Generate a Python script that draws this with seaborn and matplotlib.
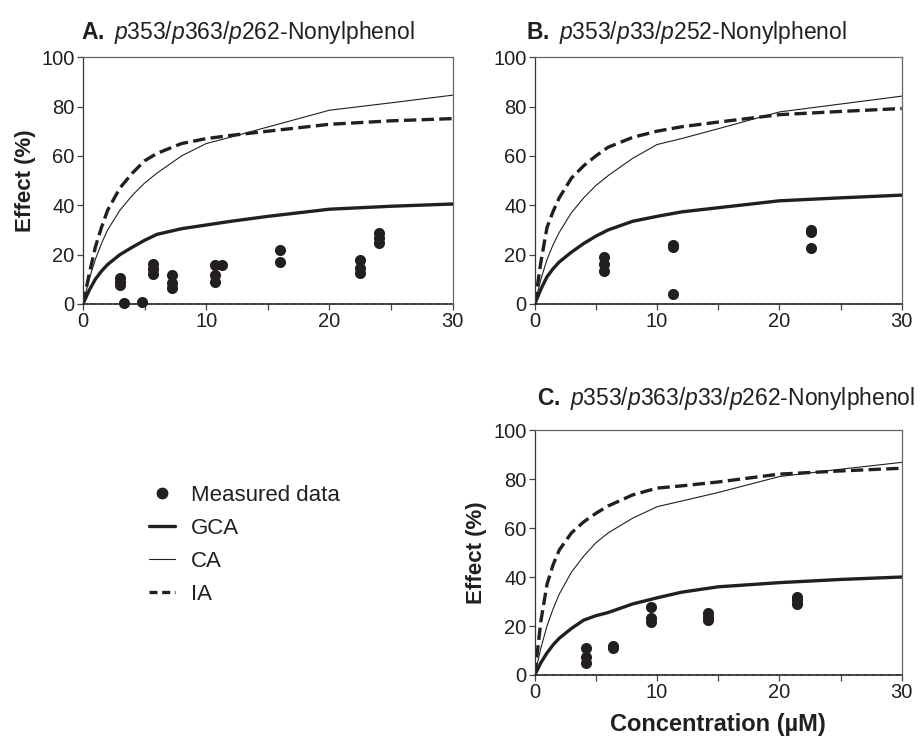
import matplotlib
matplotlib.use("Agg")
import matplotlib.pyplot as plt
from matplotlib.lines import Line2D
from matplotlib.ticker import MultipleLocator
import seaborn as sns
import pandas as pd

# model curves, effect (%) vs concentration (uM)
conc = [0, 0.5, 1, 1.5, 2, 3, 4, 5, 6, 8, 10, 12, 15, 20, 25, 30]

A_gca = [0, 5.5, 10, 13.3, 16, 20, 23, 25.8, 28.2, 30.5, 32, 33.5, 35.5, 38.4, 39.6, 40.5]
A_ca = [0, 10, 18, 24.5, 30, 38, 44, 49, 53, 60, 65, 67.6, 71.7, 78.5, 81.5, 84.6]
A_ia = [0, 12, 23, 31, 38, 47, 53, 58, 61, 65, 67, 68.3, 70, 72.8, 74.2, 75.1]

B_gca = [0, 6, 11, 14.3, 17, 21, 24.5, 27.5, 30, 33.5, 35.5, 37.3, 39, 41.8, 43, 44.1]
B_ca = [0, 10, 18, 24, 29, 37, 43, 48, 52, 59, 64.6, 67, 71, 77.8, 81, 84.2]
B_ia = [0, 17, 31, 37.5, 43, 51, 56, 60, 63.5, 67.5, 70, 71.8, 73.7, 76.7, 78, 79.2]

C_gca = [0, 5, 9, 12.3, 15, 19, 22.4, 24.2, 25.5, 29, 31.5, 33.8, 36, 37.7, 39, 40]
C_ca = [0, 11, 20, 27, 33, 42, 48.5, 54, 58, 64, 68.7, 71, 74.5, 81, 84, 86.8]
C_ia = [0, 22, 37, 45, 51, 58, 62.5, 66, 69, 73.5, 76.3, 77.2, 78.8, 82, 83.3, 84.4]

# measured data
A_x = [3.0, 3.0, 3.0, 3.3, 4.8, 5.7, 5.7, 5.7, 7.2, 7.2, 7.2, 10.7, 10.7, 10.7,
       11.3, 16.0, 16.0, 22.5, 22.5, 22.5, 24.0, 24.0, 24.0]
A_y = [10.5, 9.0, 7.5, 0.5, 0.8, 16.2, 14.2, 12.1, 11.8, 8.4, 6.4, 15.9, 11.8, 9.1,
       15.9, 22.0, 16.9, 17.7, 14.5, 12.5, 28.8, 26.8, 24.8]
B_x = [5.7, 5.7, 5.7, 11.3, 11.3, 11.3, 22.6, 22.6, 22.6]
B_y = [19.0, 16.1, 13.2, 23.7, 22.9, 4.1, 30.1, 29.2, 22.7]
C_x = [4.2, 4.2, 4.2, 6.4, 6.4, 9.5, 9.5, 9.5, 14.2, 14.2, 14.2, 21.4, 21.4, 21.4]
C_y = [10.9, 7.5, 4.8, 12.0, 11.0, 27.9, 23.1, 21.8, 25.2, 23.8, 22.4, 32.0, 30.6, 28.8]

titles = [r"$\mathbf{A.}$ $\mathit{p}$353/$\mathit{p}$363/$\mathit{p}$262-Nonylphenol",
          r"$\mathbf{B.}$ $\mathit{p}$353/$\mathit{p}$33/$\mathit{p}$252-Nonylphenol",
          r"$\mathbf{C.}$ $\mathit{p}$353/$\mathit{p}$363/$\mathit{p}$33/$\mathit{p}$262-Nonylphenol"]

sns.set_theme(style="ticks")
plt.rcParams["font.family"] = ["Liberation Sans", "DejaVu Sans"]
plt.rcParams["mathtext.fontset"] = "custom"
plt.rcParams["mathtext.rm"] = "Liberation Sans"
plt.rcParams["mathtext.it"] = "Liberation Sans:italic"
plt.rcParams["mathtext.bf"] = "Liberation Sans:bold"

ink = "#231f20"
fig = plt.figure(figsize=(9.22, 7.48), dpi=100)
axA = fig.add_axes([0.090, 0.5936, 0.401, 0.330])
axB = fig.add_axes([0.580, 0.5936, 0.398, 0.330])
axC = fig.add_axes([0.580, 0.0976, 0.398, 0.3275])

panels = [(axA, A_gca, A_ca, A_ia, A_x, A_y),
          (axB, B_gca, B_ca, B_ia, B_x, B_y),
          (axC, C_gca, C_ca, C_ia, C_x, C_y)]

for ax, gca, ca, ia, mx, my in panels:
    curves = pd.DataFrame({"conc": conc, "GCA": gca, "CA": ca, "IA": ia})
    sns.lineplot(data=curves, x="conc", y="GCA", ax=ax, color=ink, lw=2.4)
    sns.lineplot(data=curves, x="conc", y="CA", ax=ax, color=ink, lw=0.8)
    sns.lineplot(data=curves, x="conc", y="IA", ax=ax, color=ink, lw=2.4,
                 dashes=(2.4, 1.4), linestyle="--")
    meas = pd.DataFrame({"conc": mx, "effect": my})
    sns.scatterplot(data=meas, x="conc", y="effect", ax=ax, color=ink, s=64,
                    edgecolor=ink, linewidth=0, zorder=5, clip_on=False)
    ax.set_xlim(0, 30)
    ax.set_ylim(0, 100)
    ax.set_xticks([0, 10, 20, 30])
    ax.xaxis.set_minor_locator(MultipleLocator(5))
    ax.set_yticks([0, 20, 40, 60, 80, 100])
    ax.tick_params(axis="both", which="both", direction="out", length=4,
                   width=0.9, color="#444444", labelsize=14.5, pad=2, labelcolor=ink)
    for side in ["top", "right"]:
        ax.spines[side].set_color("#666666")
        ax.spines[side].set_linewidth(0.9)
    ax.spines["left"].set_color("#333333")
    ax.spines["left"].set_linewidth(0.9)
    ax.spines["bottom"].set_color("#333333")
    ax.spines["bottom"].set_linewidth(1.2)
    ax.spines["bottom"].set_linestyle((0, (0.8, 0.8)))
    ax.set_xlabel("")
    ax.set_ylabel("")

axA.set_title(titles[0], loc="left", fontsize=16.5, color=ink, pad=13, x=-0.005)
axB.set_title(titles[1], loc="left", fontsize=16.5, color=ink, pad=13, x=-0.025)
axC.set_title(titles[2], loc="left", fontsize=16.5, color=ink, pad=18, x=0.005)
axA.set_ylabel("Effect (%)", fontsize=16, fontweight="bold", color=ink, labelpad=4)
axC.set_ylabel("Effect (%)", fontsize=16, fontweight="bold", color=ink, labelpad=4)
axC.set_xlabel("Concentration (µM)", fontsize=17, fontweight="bold", color=ink, labelpad=8)

handles = [Line2D([], [], color=ink, marker="o", linestyle="none", markersize=7.5),
           Line2D([], [], color=ink, lw=2.4),
           Line2D([], [], color=ink, lw=0.8),
           Line2D([], [], color=ink, lw=2.4, dashes=(2.4, 1.4))]
fig.legend(handles, ["Measured data", "GCA", "CA", "IA"], loc="upper left",
           bbox_to_anchor=(0.140, 0.378), frameon=False, fontsize=16,
           handlelength=1.15, handletextpad=0.75, labelspacing=0.53, labelcolor=ink)

plt.savefig("out.png", dpi=100)
plt.close()
